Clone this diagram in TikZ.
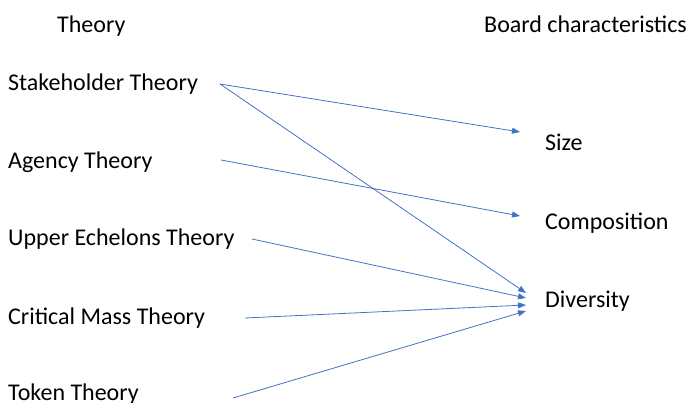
\documentclass[tikz,border=0pt]{standalone}
\usepackage{fontspec}
\setmainfont{Carlito}
\usetikzlibrary{arrows.meta}
\definecolor{lineblue}{HTML}{4472C4}
\begin{document}
\begin{tikzpicture}[x=1pt,y=-1pt,>={Triangle[length=8pt,width=6pt]},
  lbl/.style={font=\fontsize{24}{28}\selectfont,inner sep=0pt,anchor=base west},
  link/.style={lineblue,line width=.8pt,->}]
 \useasboundingbox (0,0) rectangle (689,403);
 \node[lbl] (thy) at (57,33) {Theory};
 \node[lbl] (brd) at (484,33) {Board characteristics};
 \foreach \n/\y/\t in {stk/91/Stakeholder Theory,agc/169/Agency Theory,uet/246/Upper Echelons Theory,cmt/325/Critical Mass Theory,tok/401/Token Theory}
  \node[lbl] (\n) at (8,\y) {\t};
 \foreach \n/\y/\t in {size/151/Size,comp/230/Composition,div/308/Diversity}
  \node[lbl] (\n) at (545,\y) {\t};
 % arrow ends
 \coordinate (stk-o) at (220,84);
 \coordinate (agc-o) at (221,160);
 \coordinate (uet-o) at (252,239);
 \coordinate (cmt-o) at (245,318);
 \coordinate (tok-o) at (233,398);
 \coordinate (size-i) at (520,132);
 \coordinate (comp-i) at (520,216);
 \coordinate (div-a) at (526,293);
 \coordinate (div-b) at (526,298);
 \coordinate (div-c) at (526,305);
 \coordinate (div-d) at (526,311);
 \draw[link] (stk-o) -- (size-i);
 \draw[link] (stk-o) -- (div-a);
 \draw[link] (agc-o) -- (comp-i);
 \draw[link] (uet-o) -- (div-b);
 \draw[link] (cmt-o) -- (div-c);
 \draw[link] (tok-o) -- (div-d);
\end{tikzpicture}
\end{document}
